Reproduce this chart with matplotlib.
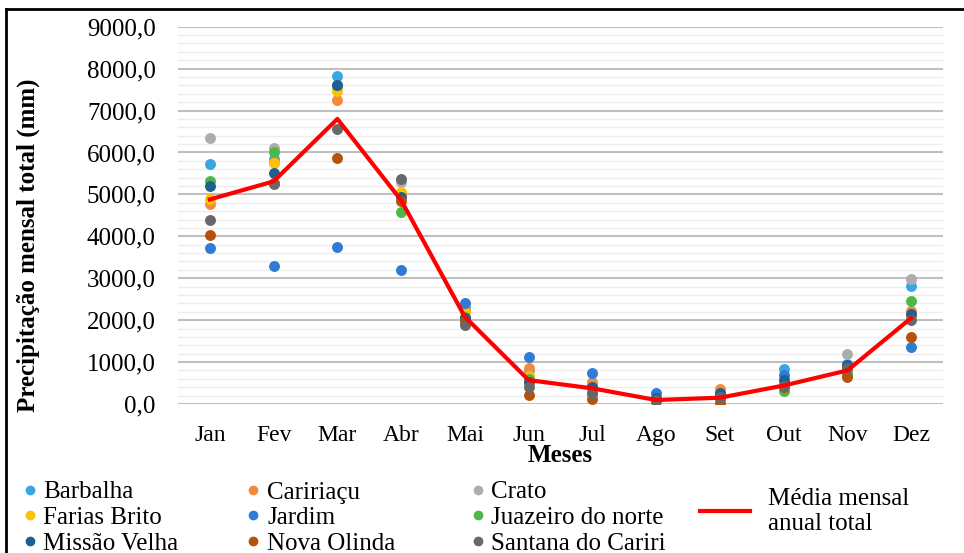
import matplotlib.pyplot as plt
from matplotlib.lines import Line2D
from matplotlib.ticker import MultipleLocator, FuncFormatter

plt.rcParams['font.family'] = ['Liberation Serif', 'DejaVu Serif']

meses = ['Jan', 'Fev', 'Mar', 'Abr', 'Mai', 'Jun', 'Jul', 'Ago', 'Set', 'Out', 'Nov', 'Dez']

barbalha = [5730, 5850, 7833, 5000, 2300, 800, 450, 150, 200, 825, 950, 2810]
caririacu = [4778, 5780, 7255, 4950, 2250, 849, 532, 120, 349, 500, 700, 2222]
crato = [6349, 6095, 7550, 5300, 1950, 500, 300, 90, 150, 480, 1190, 2992]
farias_brito = [4881, 5745, 7476, 5055, 2198, 675, 350, 100, 180, 450, 800, 2100]
jardim = [3722, 3286, 3746, 3207, 2413, 1111, 746, 270, 230, 690, 900, 1349]
juazeiro = [5317, 6007, 7600, 4579, 2079, 587, 250, 80, 120, 317, 750, 2460]
missao_velha = [5190, 5516, 7619, 4937, 2050, 520, 397, 150, 254, 571, 928, 2143]
nova_olinda = [4024, 5260, 5873, 4841, 1984, 214, 111, 60, 32, 400, 635, 1603]
santana = [4381, 5238, 6564, 5373, 1881, 413, 254, 95, 175, 429, 849, 2000]
media = [4880, 5310, 6800, 4860, 2080, 570, 373, 95, 150, 440, 800, 2050]

# nome, dados, cor
estacoes = [
    ('Barbalha', barbalha, '#3AA6E0'),
    ('Caririaçu', caririacu, '#F58A3C'),
    ('Crato', crato, '#ADADAD'),
    ('Farias Brito', farias_brito, '#FFC000'),
    ('Jardim', jardim, '#2F7BD6'),
    ('Juazeiro do norte', juazeiro, '#4CB848'),
    ('Missão Velha', missao_velha, '#1F5F91'),
    ('Nova Olinda', nova_olinda, '#B5520D'),
    ('Santana do Cariri', santana, '#686868'),
]

fig = plt.figure(figsize=(9.64, 5.53), dpi=100)
ax = fig.add_axes([178/964, 1-404/553, (943-178)/964, (404-26.7)/553])

x = list(range(len(meses)))
handles = {}
for nome, dados, cor in estacoes:
    ax.scatter(x, dados, s=62, color=cor, zorder=3, linewidths=0)
    handles[nome] = Line2D([], [], marker='o', color=cor, linestyle='none', markersize=6)

ax.plot(x, media, color='#FF0000', lw=3, zorder=4)

ax.set_xlim(-0.5, 11.5)
ax.set_ylim(0, 9000)
ax.set_xticks(x)
ax.set_xticklabels(meses)
ax.yaxis.set_major_locator(MultipleLocator(1000))
ax.yaxis.set_minor_locator(MultipleLocator(200))
ax.yaxis.set_major_formatter(FuncFormatter(lambda v, p: '{:.1f}'.format(v).replace('.', ',')))
ax.grid(which='major', axis='y', color='#BFBFBF', lw=1.5)
ax.grid(which='minor', axis='y', color='#EDEDED', lw=1.0)
ax.set_axisbelow(True)
for s in ax.spines.values():
    s.set_visible(False)
ax.tick_params(axis='both', which='both', length=0, colors='black')
ax.tick_params(axis='x', labelsize=17, pad=15)
ax.tick_params(axis='y', labelsize=18, pad=16)

ax.set_xlabel('Meses', fontsize=18, fontweight='bold', labelpad=-1)
fig.text(28/964, 1-245/553, 'Precipitação mensal total (mm)', rotation=90,
         ha='center', va='center', fontsize=18, fontweight='bold')

colunas = [
    (['Barbalha', 'Farias Brito', 'Missão Velha'], 22),
    (['Caririaçu', 'Jardim', 'Nova Olinda'], 246),
    (['Crato', 'Juazeiro do norte', 'Santana do Cariri'], 470),
]
for nomes, xpos in colunas:
    fig.legend([handles[n] for n in nomes], nomes, loc='upper left',
               bbox_to_anchor=(xpos/964, 1-481/553), frameon=False, fontsize=18,
               handlelength=0.6, handletextpad=0.25, labelspacing=0.12,
               borderpad=0, borderaxespad=0)
fig.legend([Line2D([], [], color='#FF0000', lw=3)], ['Média mensal\nanual total'],
           loc='upper left', bbox_to_anchor=(700/964, 1-488/553), frameon=False,
           fontsize=18, handlelength=2.0, handletextpad=0.7, borderpad=0, borderaxespad=0)

# moldura
fig.add_artist(Line2D([6/964, 1], [1-9/553, 1-9/553], color='black', lw=2))
fig.add_artist(Line2D([6/964, 6/964], [0, 1-9/553], color='black', lw=2))

fig.savefig('out.png', dpi=100)
